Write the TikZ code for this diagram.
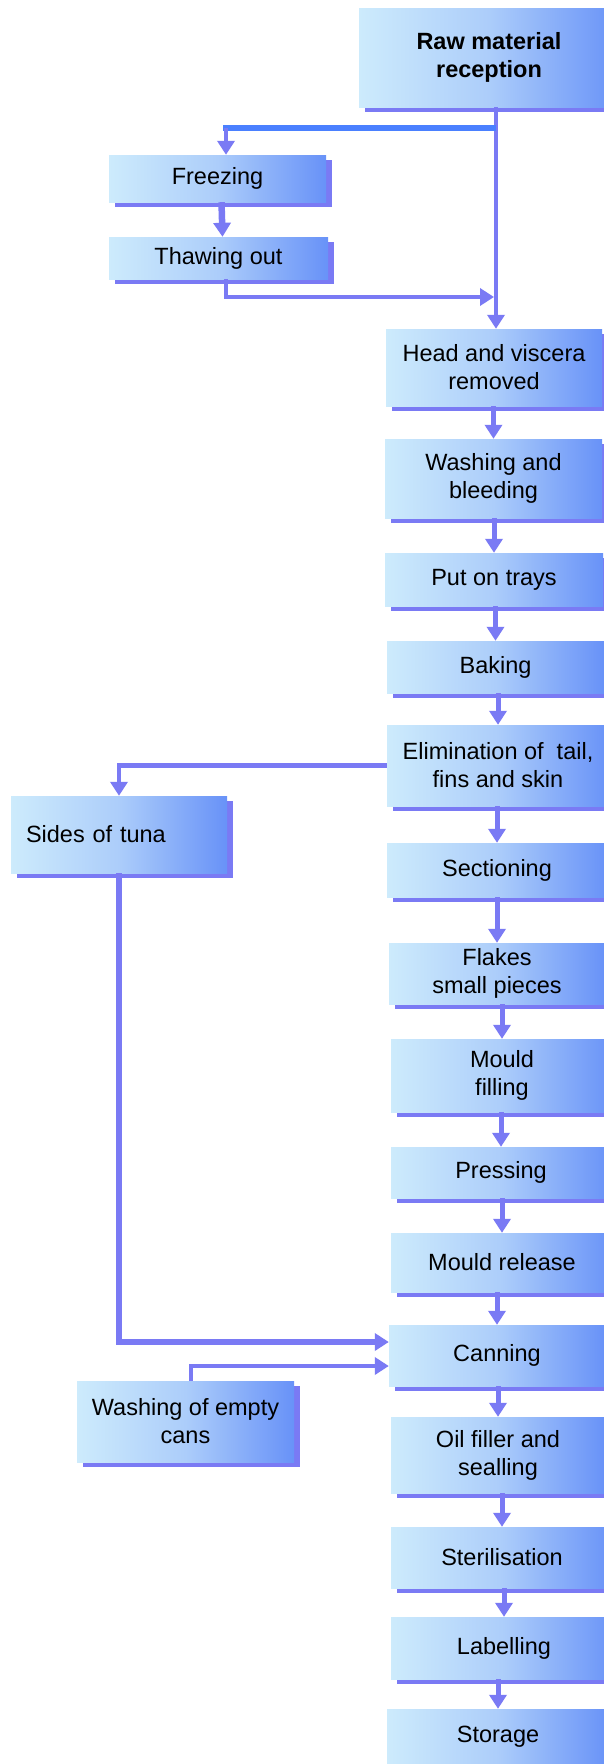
\documentclass[tikz,border=0pt]{standalone}
\usepackage{fontspec}
\setmainfont{Liberation Sans}
\usetikzlibrary{arrows.meta,shadows,calc}
\definecolor{boxl}{RGB}{205,235,252}
\definecolor{boxm}{RGB}{172,205,250}
\definecolor{boxr}{RGB}{104,146,248}
\definecolor{shad}{RGB}{122,122,244}
\definecolor{brightb}{RGB}{74,128,255}
\newcommand\mybox[7][]{\node[box,#1,minimum width={#5-#3},minimum height={#6-#4}] (#2) at ({(#3+#5)/2},{(#4+#6)/2}) {#7};}
\begin{document}
\begin{tikzpicture}[x=1pt,y=-1pt,
 box/.style={rectangle, inner sep=0pt, left color=boxl, right color=boxr, middle color=boxm,
   general shadow={fill=shad, shadow xshift=6pt, shadow yshift=-5pt},
   align=center, font=\fontsize{23.5}{28}\selectfont},
 conn/.style={draw=shad, line width=5pt},
 arr/.style={conn, -{Triangle[width=17pt,length=14pt]}}]
\clip (0,0) rectangle (604,1764);
\fill[white] (0,0) rectangle (604,1764);
\mybox{raw}{359}{8}{619}{107}{\bfseries Raw material\\\bfseries reception}
\mybox{freez}{109}{155}{326}{202}{Freezing}
\mybox{thaw}{109}{237}{328}{279}{Thawing out}
\mybox{head}{386}{329}{602}{406}{Head and viscera\\removed}
\mybox{wash}{385}{439}{602}{518}{Washing and\\bleeding}
\mybox{trays}{385}{553}{603}{606}{Put on trays}
\mybox{bake}{387}{641}{604}{693}{Baking}
\mybox{elim}{387}{725}{609}{806}{Elimination of\ \ tail,\\fins and skin}
\mybox[align=left,text width=186pt,inner xsep=15pt]{sides}{11}{796}{227}{873}{Sides of tuna}
\mybox{sect}{387}{843}{607}{897}{Sectioning}
\mybox{flakes}{389}{943}{605}{1004}{Flakes\\small pieces}
\mybox{mould}{391}{1039}{613}{1112}{Mould\\filling}
\mybox{press}{391}{1147}{611}{1198}{Pressing}
\mybox{release}{391}{1233}{613}{1292}{Mould release}
\mybox{can}{389}{1325}{605}{1386}{Canning}
\mybox{wcans}{77}{1381}{294}{1462}{Washing of empty\\cans}
\mybox{oil}{391}{1417}{605}{1493}{Oil filler and\\sealling}
\mybox{steril}{391}{1527}{613}{1588}{Sterilisation}
\mybox{label}{391}{1617}{617}{1679}{Labelling}
\mybox{store}{387}{1709}{609}{1765}{Storage}
% top branch
\coordinate (m) at (496,128);
\coordinate (f) at (226,128);
\coordinate (j2) at (494,297);
\draw[arr, line width=4.5pt] (raw.south -| m) -- (head.north -| m);
\draw[draw=brightb, line width=6.5pt] (m) -- ([xshift=-3pt]f);
\draw[arr, line width=4.5pt] (f) -- (freez.north -| f);
\draw[arr, line width=6.5pt] ([xshift=4pt]freez.south) -- ([xshift=4pt]thaw.north);
\draw[arr, line width=4.5pt] ([xshift=7.5pt]thaw.south) |- (j2);
% main chain
\foreach \a/\b in {head/wash, wash/trays, trays/bake, bake/elim, elim/sect, sect/flakes,
  flakes/mould, mould/press, press/release, release/can, can/oil, oil/steril, steril/label, label/store}
  \draw[arr] (\a.south -| \b.north) -- (\b.north);
% side branches
\draw[arr, line width=4.5pt] (elim.west) -| (sides.north);
\draw[arr, line width=6.5pt] (sides.south) |- ([yshift=13.5pt]can.west);
\draw[arr, line width=4.5pt] ([xshift=5.5pt]wcans.north) |- ([yshift=-10.5pt]can.west);
\end{tikzpicture}
\end{document}
